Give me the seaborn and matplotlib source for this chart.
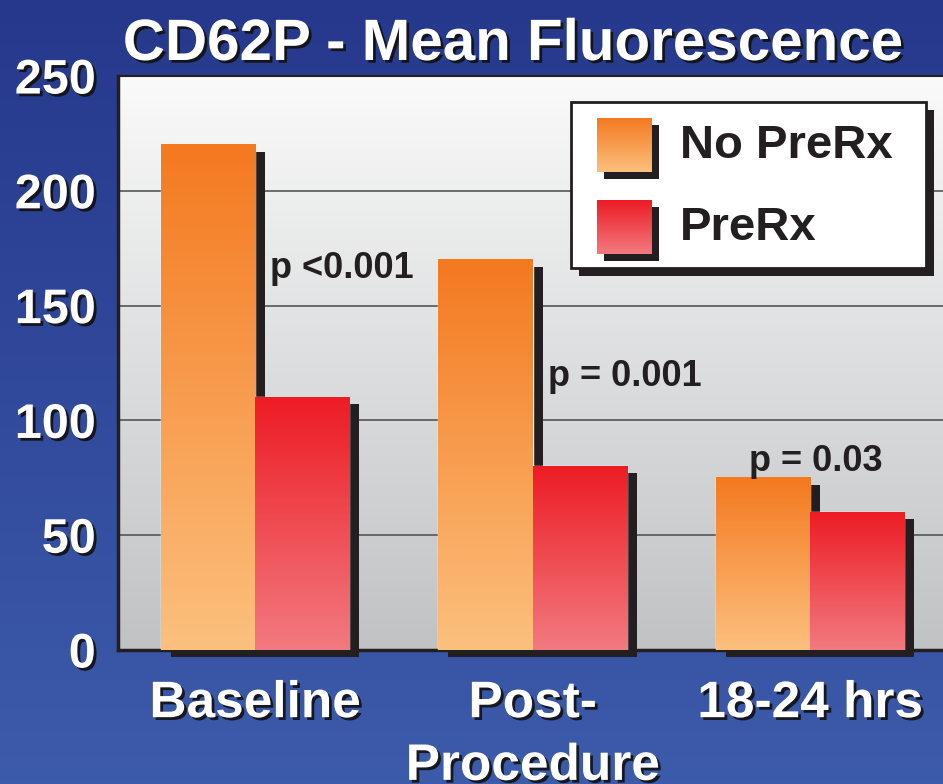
import numpy as np
import pandas as pd
import matplotlib
matplotlib.use('Agg')
import matplotlib.pyplot as plt
import matplotlib.patheffects as pe
import matplotlib.transforms as mtransforms
from matplotlib.colors import LinearSegmentedColormap
from matplotlib.patches import Rectangle
import seaborn as sns

# data
periods = ['Baseline', 'Post-\nProcedure', '18-24 hrs']
groups = ['No PreRx', 'PreRx']
no_prerx = [220, 170, 75]
prerx = [110, 80, 60]
p_labels = ['p <0.001', 'p = 0.001', 'p = 0.03']
yticks = [0, 50, 100, 150, 200, 250]

df = pd.DataFrame({
    'period': periods * 2,
    'group': [groups[0]] * 3 + [groups[1]] * 3,
    'value': no_prerx + prerx,
})

sns.set_theme(style='white')
plt.rcParams['font.family'] = ['Liberation Sans', 'DejaVu Sans']
plt.rcParams['font.weight'] = 'bold'

dark = '#231F20'
grad_cols = {
    'No PreRx': ['#F47920', '#FCC07E'],
    'PreRx': ['#ED1C24', '#F27A80'],
}
white_shadow = [pe.withSimplePatchShadow(offset=(2, -2), shadow_rgbFace='#111111', alpha=0.9)]
ramp = np.linspace(0, 1, 256).reshape(-1, 1)

fig = plt.figure(figsize=(9.43, 7.84), dpi=100)

# blue background
bg = fig.add_axes([0, 0, 1, 1], zorder=-10)
bg.imshow(ramp, aspect='auto', extent=[0, 1, 0, 1],
          cmap=LinearSegmentedColormap.from_list('bg', ['#26388C', '#3D5BAB']))
bg.axis('off')

# plot area
ax = fig.add_axes([0.1251, 0.1709, 0.8749, 0.7321])
xlim = (-0.494, 2.479)
ylim = (0, 250)

sns.barplot(data=df, x='period', y='value', hue='group', hue_order=groups,
            palette=[grad_cols[g][0] for g in groups], width=0.68, saturation=1,
            legend=False, ax=ax, zorder=3)

ax.imshow(ramp, aspect='auto', extent=[xlim[0], xlim[1], ylim[0], ylim[1]], zorder=0.1,
          cmap=LinearSegmentedColormap.from_list('pa', ['#FAFAFA', '#C0C2C4']))

shift = mtransforms.ScaledTranslation(10 / 100, -7 / 100, fig.dpi_scale_trans)
bars = [p for p in ax.patches if isinstance(p, Rectangle)]
for i, bar in enumerate(bars):
    g = groups[i // 3]
    x, y = bar.get_x(), bar.get_y()
    w, h = bar.get_width(), bar.get_height()
    ax.add_patch(Rectangle((x, y), w, h, facecolor=dark, edgecolor='none',
                           transform=ax.transData + shift, clip_on=False, zorder=2))
    ax.imshow(ramp, aspect='auto', extent=[x, x + w, y, y + h], zorder=4,
              cmap=LinearSegmentedColormap.from_list('b%d' % i, grad_cols[g]))

ax.set_xlim(*xlim)
ax.set_ylim(*ylim)
ax.set_yticks(yticks)
ax.set_axisbelow(True)
ax.yaxis.grid(True, color='#555555', lw=1.2)
ax.xaxis.grid(False)
for s in ['left', 'bottom']:
    ax.spines[s].set_color(dark)
    ax.spines[s].set_linewidth(2.5)
ax.spines['top'].set_color(dark)
ax.spines['top'].set_linewidth(1.5)
ax.spines['right'].set_visible(False)
ax.set_xlabel('')
ax.set_ylabel('')
ax.tick_params(axis='y', length=0, pad=16, labelsize=35, labelcolor='white')
ax.tick_params(axis='x', length=0, pad=21, labelsize=37, labelcolor='white')
for lbl in ax.get_yticklabels() + ax.get_xticklabels():
    lbl.set_fontweight('bold')
    lbl.set_path_effects(white_shadow)
    lbl.set_linespacing(1.36)

# p-values
p_pos = [(0.054, 162, 'left'), (1.054, 115, 'left'), (2.02, 78, 'center')]
for lab, (px, py, ha) in zip(p_labels, p_pos):
    ax.text(px, py, lab, ha=ha, va='baseline', fontsize=26, fontweight='bold',
            color=dark, zorder=6)

# title
fig.text(0.5445, 0.9235, 'CD62P - Mean Fluorescence', ha='center', va='baseline',
         fontsize=42, fontweight='bold', color='white', path_effects=white_shadow)

# legend (pixel coords)
lax = fig.add_axes([0, 0, 1, 1], zorder=5)
lax.set_xlim(0, 943)
lax.set_ylim(784, 0)
lax.axis('off')
lax.add_patch(Rectangle((579, 110), 355, 166, facecolor=dark, edgecolor='none', clip_on=False))
lax.add_patch(Rectangle((571, 102), 355, 166, facecolor='white', edgecolor=dark, lw=2))
for j, g in enumerate(groups):
    top = 118 + j * 82
    lax.add_patch(Rectangle((604, top + 7), 55, 54, facecolor=dark, edgecolor='none'))
    lax.imshow(ramp, aspect='auto', extent=[597, 652, top + 54, top], zorder=3,
               cmap=LinearSegmentedColormap.from_list('l%d' % j, grad_cols[g]))
    lax.text(680, top + 28, g, ha='left', va='center', fontsize=34,
             fontweight='bold', color=dark, zorder=4)
lax.set_xlim(0, 943)
lax.set_ylim(784, 0)

fig.savefig('out.png', dpi=100)
